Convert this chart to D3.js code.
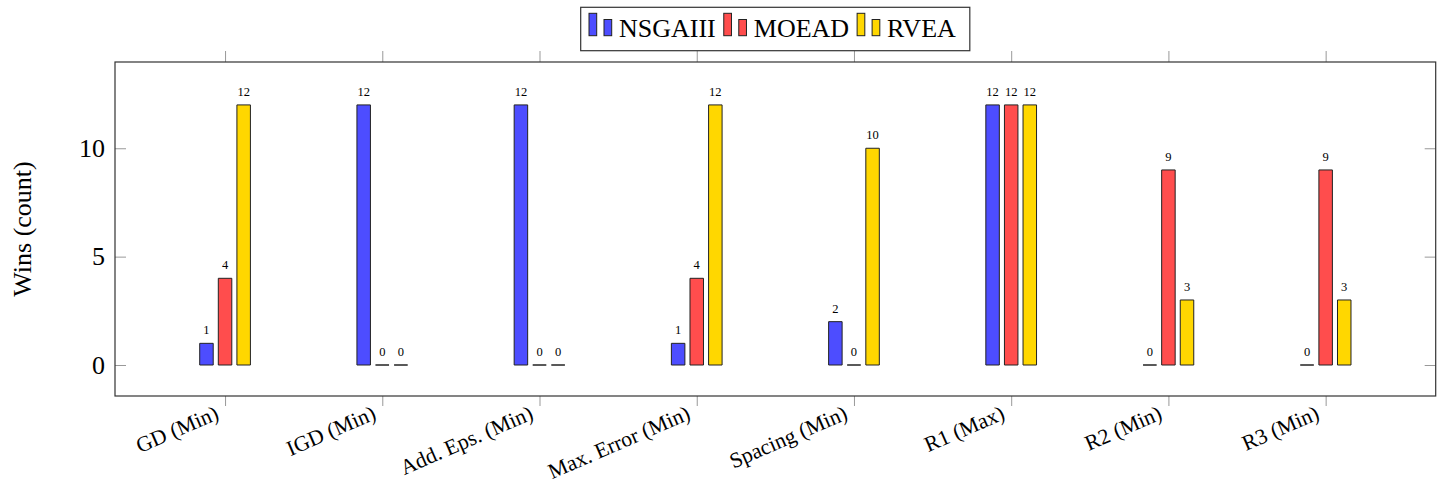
<!DOCTYPE html>
<html><head><meta charset="utf-8">
<script src="https://cdn.jsdelivr.net/npm/d3@7"></script>
<style>
html,body{margin:0;padding:0;background:#fff;}
svg{display:block;font-family:"Liberation Serif","Times New Roman",serif;}
</style></head>
<body>
<svg id="chart" width="1440" height="483"></svg>
<script>
const categories = ["GD (Min)", "IGD (Min)", "Add. Eps. (Min)", "Max. Error (Min)", "Spacing (Min)", "R1 (Max)", "R2 (Min)", "R3 (Min)"];
const seriesNames = ["NSGAIII", "MOEAD", "RVEA"];
const nsgaiii = [1, 12, 12, 1, 2, 12, 0, 0];
const moead   = [4, 0, 0, 4, 0, 12, 9, 9];
const rvea    = [12, 0, 0, 12, 10, 12, 3, 3];
const yTicks = [0, 5, 10];
const colors = ["#4d4dff", "#ff4d4d", "#ffd700"];
const series = [nsgaiii, moead, rvea];

const svg = d3.select("#chart");
const L = 115, R = 1435.7, T = 62, B = 396;
const x = d3.scaleLinear().domain([-0.7, categories.length - 1 + 0.7]).range([L, R]);
const y = d3.scaleLinear().domain([-1.43, 13.98]).range([B, T]);

// ticks
const yAxisL = d3.axisLeft(y).tickValues(yTicks).tickSize(-11).tickPadding(10);
const gyl = svg.append("g").attr("transform", `translate(${L},0)`).call(yAxisL);
gyl.select(".domain").remove();
gyl.selectAll("line").attr("stroke", "#999");
gyl.selectAll("text").attr("font-size", 26).attr("font-family", "Liberation Serif").attr("fill", "#000");

const yAxisR = d3.axisRight(y).tickValues(yTicks).tickSize(-11).tickFormat("");
const gyr = svg.append("g").attr("transform", `translate(${R},0)`).call(yAxisR);
gyr.select(".domain").remove();
gyr.selectAll("line").attr("stroke", "#999");

const xAxisT = d3.axisTop(x).tickValues(d3.range(categories.length)).tickSize(11).tickFormat("");
const gxt = svg.append("g").attr("transform", `translate(0,${T})`).call(xAxisT);
gxt.select(".domain").remove();
gxt.selectAll("line").attr("stroke", "#999");

const xAxisB = d3.axisBottom(x).tickValues(d3.range(categories.length)).tickSize(10).tickFormat(i => categories[i]);
const gxb = svg.append("g").attr("transform", `translate(0,${B})`).call(xAxisB);
gxb.select(".domain").remove();
gxb.selectAll("line").attr("stroke", "#999");
gxb.selectAll("text")
  .attr("font-size", 21.7).attr("font-family", "Liberation Serif").attr("fill", "#000")
  .attr("text-anchor", "end")
  .attr("dy", null)
  .attr("y", 0).attr("x", 0)
  .attr("transform", "translate(-5.5,22.5) rotate(-23.5)");

// bars
const bw = 13.5, off = 18.6;
series.forEach((vals, si) => {
  const g = svg.append("g");
  g.selectAll("path").data(vals).join("path")
    .attr("d", (v, i) => {
      const cx = x(i) + (si - 1) * off;
      const x0 = cx - bw / 2, x1 = cx + bw / 2;
      return `M${x0},${y(0)}V${y(v)}H${x1}V${y(0)}Z`;
    })
    .attr("fill", colors[si]).attr("stroke", "#222").attr("stroke-width", 1);
  g.selectAll("text").data(vals).join("text")
    .attr("x", (v, i) => x(i) + (si - 1) * off)
    .attr("y", v => y(v) - 9)
    .attr("text-anchor", "middle")
    .attr("font-size", 12.5)
    .text(v => v);
});

// frame
svg.append("rect").attr("x", L).attr("y", T).attr("width", R - L).attr("height", B - T)
  .attr("fill", "none").attr("stroke", "#333").attr("stroke-width", 1.2);

// y label
svg.append("text").attr("transform", `translate(31,${(T + B) / 2}) rotate(-90)`)
  .attr("text-anchor", "middle").attr("font-size", 26).text("Wins (count)");

// legend
const lg = svg.append("g");
const lx0 = 580.7, ly0 = 7.3, lh = 43.4;
let cur = lx0 + 8.3;
seriesNames.forEach((name, i) => {
  const gi = lg.append("g");
  gi.append("rect").attr("x", cur).attr("y", 13.3).attr("width", 7.7).attr("height", 22.4)
    .attr("fill", colors[i]).attr("stroke", "#222").attr("stroke-width", 1);
  gi.append("rect").attr("x", cur + 15).attr("y", 19.5).attr("width", 7.7).attr("height", 16.2)
    .attr("fill", colors[i]).attr("stroke", "#222").attr("stroke-width", 1);
  const t = gi.append("text").attr("x", cur + 30).attr("y", 37).attr("font-size", 26).text(name);
  const w = t.node().getComputedTextLength();
  cur = cur + 30 + w + 8;
});
lg.insert("rect", ":first-child").attr("x", lx0).attr("y", ly0).attr("width", cur - lx0 + 6).attr("height", lh)
  .attr("fill", "#fff").attr("stroke", "#333").attr("stroke-width", 1.2);
</script>
</body></html>
